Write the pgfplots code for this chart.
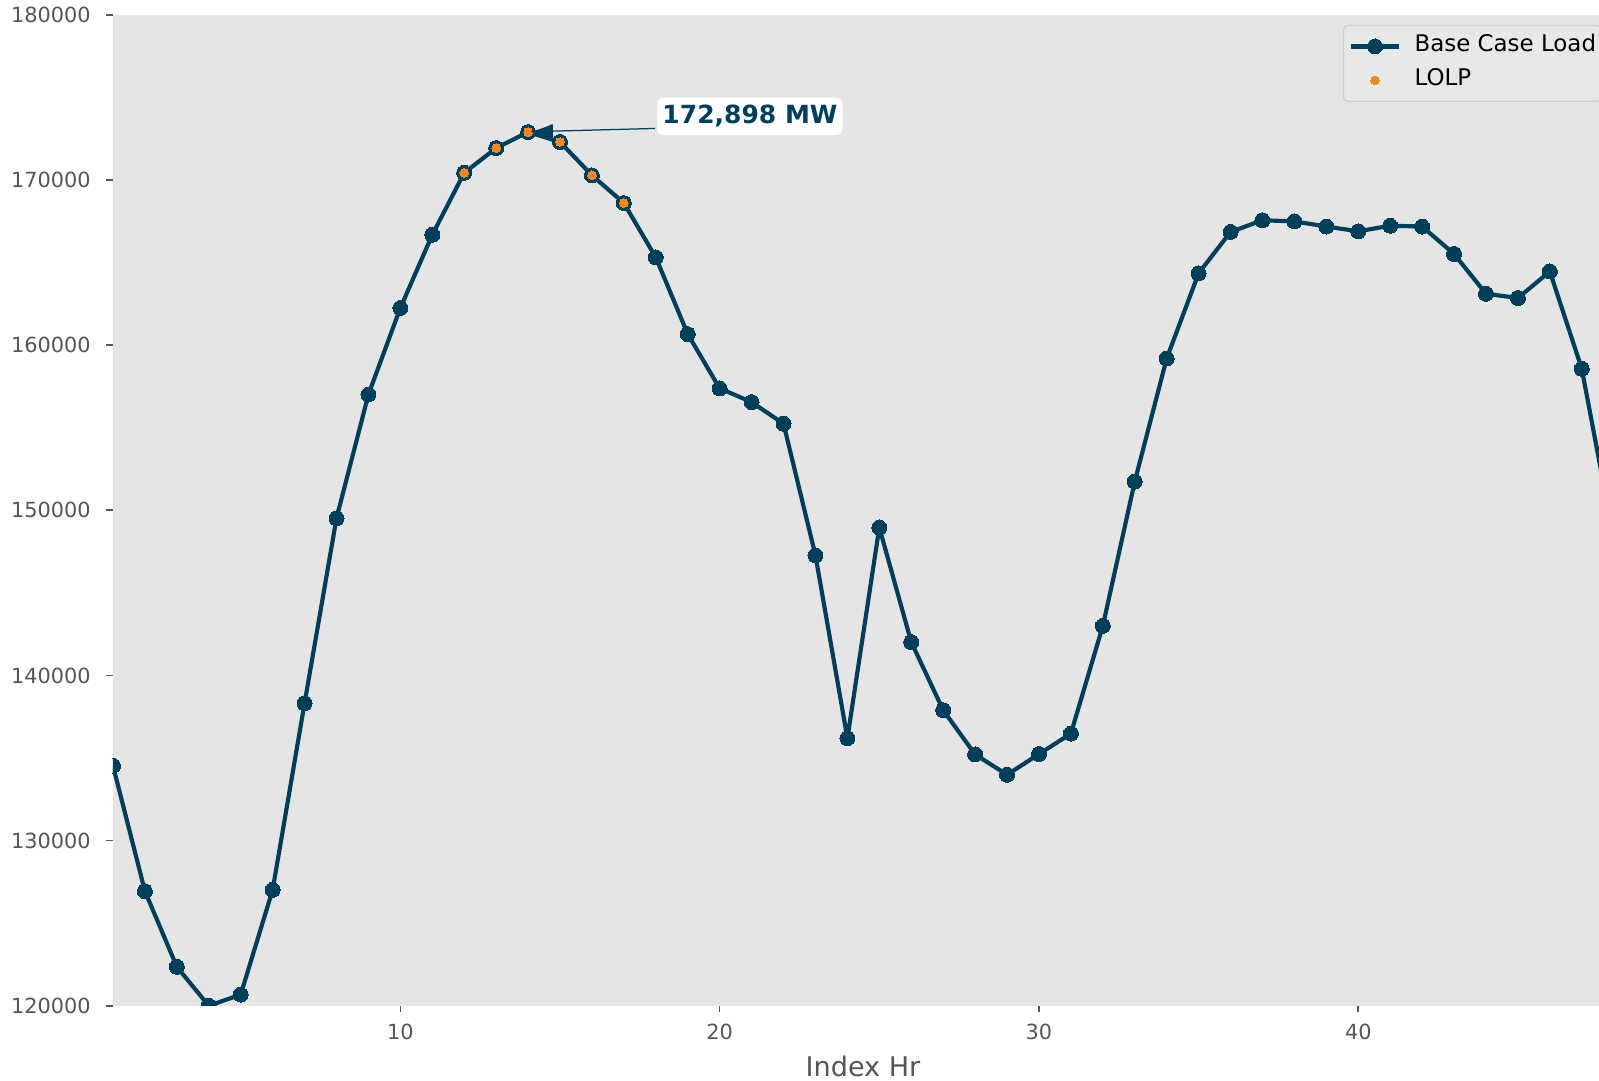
\documentclass[border=0pt]{standalone}
\usepackage{fontspec}
\setmainfont{DejaVu Sans}
\usepackage{pgfplots}
\usepackage{pgfplotstable}
\pgfplotsset{compat=1.18}
\usetikzlibrary{arrows.meta}
\definecolor{navy}{HTML}{003F5C}
\definecolor{lolp}{HTML}{F5871F}
\definecolor{bg}{HTML}{E5E5E5}
\definecolor{tickgray}{HTML}{555555}
\definecolor{legfill}{HTML}{E8E8E8}
\definecolor{legdraw}{HTML}{CFCFCF}

\pgfplotstableread{
x y
1 134530
2 126940
3 122360
4 120000
5 120680
6 127020
7 138320
8 149520
9 157010
10 162250
11 166680
12 170430
13 171930
14 172898
15 172300
16 170280
17 168600
18 165310
19 160670
20 157380
21 156550
22 155240
23 147270
24 136200
25 148960
26 142020
27 137900
28 135220
29 133990
30 135240
31 136480
32 143000
33 151740
34 159190
35 164350
36 166850
37 167560
38 167490
39 167180
40 166890
41 167230
42 167180
43 165520
44 163110
45 162850
46 164460
47 158570
48 148350
}\loaddata

\pgfplotstableread{
x y
12 170430
13 171930
14 172898
15 172300
16 170280
17 168600
}\lolpdata

\begin{document}
\begin{tikzpicture}
\begin{axis}[
  name=ax,
  scale only axis, width=713.3pt, height=475.7pt,
  xmin=1, xmax=47.54, ymin=120000, ymax=180000,
  axis background/.style={fill=bg},
  axis line style={draw=none},
  tick pos=left, tick align=outside,
  major tick length=3.2pt,
  tick style={color=tickgray, line width=0.8pt},
  xtick={10,20,30,40},
  ytick={120000,130000,140000,150000,160000,170000,180000},
  scaled y ticks=false,
  ticklabel style={font=\fontsize{10}{12}\selectfont, text=tickgray},
  yticklabel style={xshift=-4pt, /pgf/number format/.cd, fixed, precision=0, 1000 sep={}, assume math mode=true},
  xticklabel style={yshift=-2pt, /pgf/number format/.cd, fixed, precision=0, assume math mode=true},
  xlabel={Index Hr},
  xlabel style={at={(axis description cs:0.5047,0)}, anchor=base, yshift=-33.8pt,
    font=\fontsize{13}{15}\selectfont, text=tickgray},
  clip marker paths=true,
  legend style={at={(0.8277,0.9897)}, anchor=north west,
    fill=legfill, draw=legdraw, line width=0.6pt, rounded corners=2pt,
    font=\fontsize{11}{13}\selectfont, text=black,
    inner xsep=2.7pt, inner ysep=5pt, row sep=6.3pt,
    nodes={inner sep=0pt, text height=0.75em, text depth=0.25em},
    /tikz/every odd column/.append style={column sep=6.6pt}},
  legend cell align=left,
]
\addplot[navy, line width=2pt, line join=round, mark=*, mark size=3.6pt,
  mark options={fill=navy, draw=navy, line width=0pt},
  legend image code/.code={\draw[mark repeat=2,mark phase=2] plot coordinates {(0pt,0pt) (11.4pt,0pt) (22.8pt,0pt)};}]
  table[x=x,y=y] {\loaddata};
\addlegendentry{Base Case Load}
\addplot[only marks, mark=*, mark size=2.1pt, color=lolp,
  mark options={fill=lolp, draw=lolp, line width=0pt},
  legend image code/.code={\draw plot coordinates {(11.4pt,0pt)};}]
  table[x=x,y=y] {\lolpdata};
\addlegendentry{LOLP}
\draw[-{Latex[length=11pt,width=7pt]}, color=navy, line width=0.6pt]
  (axis cs:17.97,173118) -- (axis cs:14.06,172918);
\node[fill=white, rounded corners=3pt, minimum width=89pt, minimum height=17.8pt,
  inner sep=0pt, text=navy, font=\fontsize{12}{14}\selectfont\bfseries]
  at (axis cs:20.95,173855) {172,898 MW};
\end{axis}
\pgfresetboundingbox
\path[use as bounding box] ([xshift=-54.24pt,yshift=-36pt]ax.south west) rectangle ([yshift=7.1pt]ax.north east);
\end{tikzpicture}
\end{document}
